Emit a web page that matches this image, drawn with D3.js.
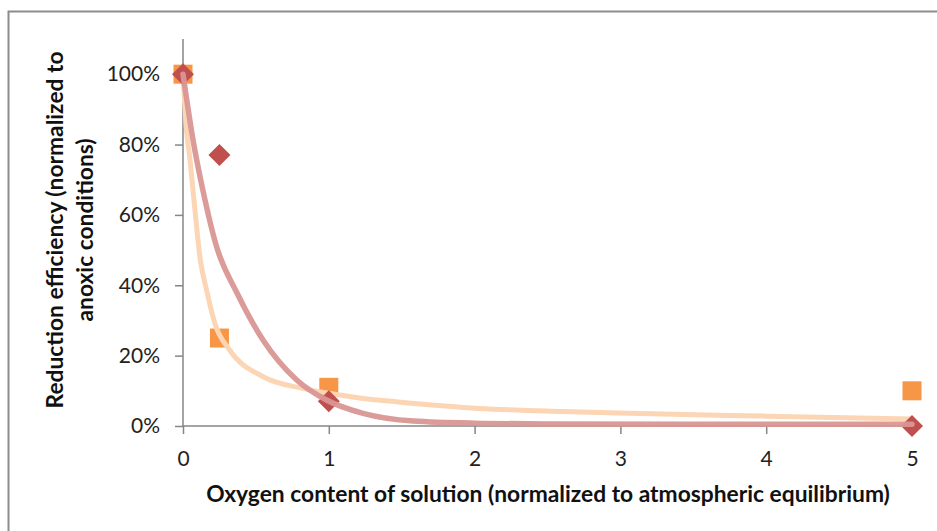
<!DOCTYPE html>
<html><head><meta charset="utf-8">
<script src="https://cdn.jsdelivr.net/npm/d3@7/dist/d3.min.js"></script>
<style>body{margin:0;background:#fff}svg{display:block}text{font-family:Lato,"Open Sans",sans-serif}</style>
</head><body><svg id="c" width="937" height="531"></svg>
<script>
// Data
const xTicks = [0, 1, 2, 3, 4, 5];
const yTicks = [0, 0.2, 0.4, 0.6, 0.8, 1.0];
const seriesA = [ {x:0, y:1.00}, {x:0.25, y:0.25}, {x:1, y:0.11}, {x:5, y:0.10} ]; // orange squares
const seriesB = [ {x:0, y:1.00}, {x:0.25, y:0.77}, {x:1, y:0.07}, {x:5, y:0.00} ]; // red diamonds
// trendline paths
const trendA = [ [0,1.00],[0.02,0.86],[0.048,0.756],[0.082,0.614],[0.116,0.48],[0.162,0.386],[0.22,0.29],[0.32,0.216],[0.55,0.14],[0.82,0.107],[1.075,0.088],[1.28,0.076],[1.46,0.069],[2.03,0.05],[2.6,0.041],[3.06,0.036],[4.0,0.028],[5.0,0.020] ];
const trendB = [ [0,1.00],[0.07,0.81],[0.139,0.665],[0.23,0.51],[0.368,0.38],[0.55,0.244],[0.78,0.131],[0.984,0.074],[1.235,0.036],[1.58,0.014],[2.0,0.008],[2.5,0.006],[3.5,0.005],[5.0,0.005] ];

const svg = d3.select("#c");
svg.append("rect").attr("x",8.5).attr("y",11.5).attr("width",940).attr("height",540)
  .attr("fill","#fff").attr("stroke","#8c8c8c").attr("stroke-width",2);

const x = d3.scaleLinear().domain([0,5]).range([183,912]);
const y = d3.scaleLinear().domain([0,1.1]).range([426,39]);

// axes
const xAxis = svg.append("g").attr("transform","translate(0,426)")
  .call(d3.axisBottom(x).tickValues(xTicks).tickSize(8).tickPadding(17).tickFormat(d3.format("d")));
const yAxis = svg.append("g").attr("transform","translate(183,0)")
  .call(d3.axisLeft(y).tickValues(yTicks).tickSize(8).tickPadding(15).tickFormat(d3.format(".0%")));
[xAxis,yAxis].forEach(g=>{
  g.select(".domain").attr("stroke","#868686").attr("stroke-width",1.5);
  g.selectAll(".tick line").attr("stroke","#868686").attr("stroke-width",1.5);
  g.selectAll(".tick text").attr("fill","#222").style("font-size","21px").style("font-family","Lato,'Open Sans',sans-serif");
});
yAxis.select(".domain").attr("d","M-0,426V39");
xAxis.select(".domain").attr("d","M183,0H912");

const line = d3.line().x(d=>x(d[0])).y(d=>y(d[1])).curve(d3.curveMonotoneX);

// markers and trendlines
svg.selectAll(".sq").data(seriesA).join("rect")
  .attr("x",d=>x(d.x)-9.5).attr("y",d=>y(d.y)-9.5).attr("width",19).attr("height",19)
  .attr("fill","#F79646");
svg.append("path").attr("d",line(trendA)).attr("fill","none")
  .attr("stroke","#FCD5B5").attr("stroke-width",5).attr("stroke-linecap","round");
svg.selectAll(".dm").data(seriesB).join("path")
  .attr("d",d=>{const cx=x(d.x), cy=y(d.y), r=11; return `M${cx},${cy-r}L${cx+r},${cy}L${cx},${cy+r}L${cx-r},${cy}Z`;})
  .attr("fill","#C0504D");
svg.append("path").attr("d",line(trendB)).attr("fill","none")
  .attr("stroke","#D99694").attr("stroke-width",5.5).attr("stroke-linecap","round").attr("opacity",0.95);

// titles
svg.append("text").attr("x",548).attr("y",502).attr("text-anchor","middle")
  .style("font-size","22.8px").style("font-weight","bold").attr("fill","#111")
  .text("Oxygen content of solution (normalized to atmospheric equilibrium)");
const yt = svg.append("text").attr("transform","translate(0,230) rotate(-90)").attr("text-anchor","middle")
  .style("font-size","22.8px").style("font-weight","bold").attr("fill","#111");
yt.append("tspan").attr("x",0).attr("y",63).text("Reduction efficiency (normalized to");
yt.append("tspan").attr("x",0).attr("y",93).text("anoxic conditions)");
</script></body></html>
